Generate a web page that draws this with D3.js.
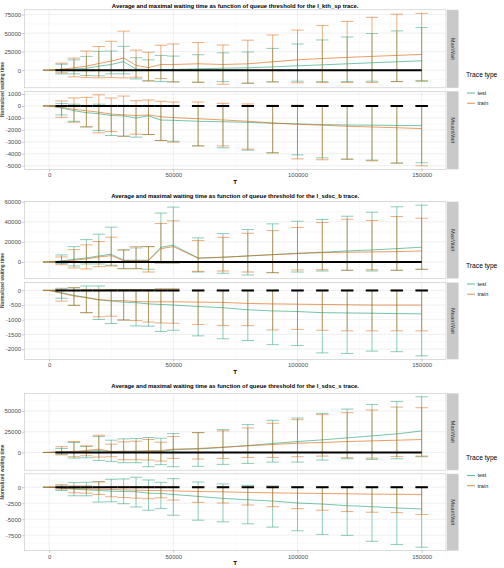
<!DOCTYPE html>
<html>
<head>
<meta charset="utf-8">
<script src="https://cdn.jsdelivr.net/npm/d3@7"></script>
<style>
body { margin: 0; background: #fff; }
svg { display: block; font-family: "Liberation Sans", Arial, sans-serif; }
</style>
</head>
<body>
<div id="chart"></div>
<script>
// queue thresholds (x axis)
var thresholds = [0, 5000, 10000, 15000, 20000, 25000, 30000, 35000, 40000, 45000, 50000,
	60000, 70000, 80000, 90000, 100000, 110000, 120000, 130000, 140000, 150000];

var traceNames = ["l_kth_sp", "l_sdsc_b", "l_sdsc_s"];
var panelNames = ["MaxWait", "MeanWait"];
var seriesNames = ["test", "train"];

// l_kth_sp, MaxWait
var kthMaxTestMean = [0, 500, 1400, 2700, 5400, 7700, 11500, 1500, 700, 800, 1000, 1800, 2700, 3200, 4500, 5900, 7200, 8600, 10000, 11300, 12700];
var kthMaxTestLo = [0, -5000, -5000, -7200, -7700, -5000, -5000, -11800, -14500, -15400, -15800, -16300, -15400, -17600, -15800, -14900, -15400, -15400, -14900, -15400, -14000];
var kthMaxTestHi = [0, 8000, 14000, 18600, 25400, 25800, 32200, 16800, 14000, 19900, 19000, 20800, 23500, 24500, 29400, 35300, 40800, 44800, 49400, 53000, 57500];
var kthMaxTrainMean = [0, 1400, 3200, 5400, 9000, 12200, 16500, 6500, 3400, 7700, 7700, 8600, 7700, 8600, 11300, 14000, 15800, 17200, 18600, 19900, 21300];
var kthMaxTrainLo = [0, -3500, -9000, -10000, -10400, -10000, -10400, -9500, -14500, -11300, -15800, -16300, -19000, -17600, -15800, -17000, -16700, -16700, -16700, -15400, -15400];
var kthMaxTrainHi = [0, 9500, 16300, 25800, 31900, 39000, 52700, 27100, 24200, 33700, 35300, 37300, 34000, 40500, 47500, 54100, 60200, 65800, 71300, 75600, 76700];

// l_kth_sp, MeanWait
var kthMeanTestMean = [0, -170, -400, -560, -650, -800, -830, -1000, -820, -1180, -1200, -1280, -1320, -1370, -1450, -1500, -1560, -1590, -1610, -1630, -1650];
var kthMeanTestLo = [0, -750, -1280, -1750, -2060, -2470, -2530, -2610, -2390, -2890, -2950, -3340, -3500, -3700, -3920, -4090, -4340, -4450, -4530, -4780, -4750];
var kthMeanTestHi = [0, 200, 150, 50, 150, 50, 50, 0, 50, 0, 0, 0, 0, 0, 0, 0, 0, 0, 0, 0, 0];
var kthMeanTrainMean = [0, -110, -280, -400, -520, -680, -740, -800, -750, -900, -970, -1070, -1170, -1280, -1420, -1530, -1610, -1700, -1760, -1820, -1890];
var kthMeanTrainLo = [0, -950, -1360, -1750, -2250, -2140, -2530, -2360, -2390, -2890, -3030, -3340, -3340, -3610, -3920, -4420, -4500, -4450, -4590, -4780, -5000];
var kthMeanTrainHi = [0, 420, 670, 720, 930, 670, 830, 440, 500, 390, 330, 330, 220, 170, 60, 60, 40, 30, 30, 30, 30];

// l_sdsc_b, MaxWait
var sdscbMaxTestMean = [0, 1000, 2700, 4000, 6000, 7700, 1700, 1700, 1700, 14700, 16700, 4000, 4700, 6000, 7300, 8700, 9700, 11000, 12000, 13300, 14700];
var sdscbMaxTestLo = [0, -1500, -4000, -2000, -2000, -3300, -6700, -6700, -7300, -1000, -1000, -10000, -11300, -13000, -10700, -10000, -9000, -8300, -9000, -8300, -7300];
var sdscbMaxTestHi = [0, 7000, 15300, 22300, 27700, 34700, 12000, 14000, 15300, 48700, 54700, 24000, 28300, 32300, 38000, 40600, 42300, 45600, 49600, 55000, 56600];
var sdscbMaxTrainMean = [0, 700, 1700, 3000, 5000, 6300, 1300, 1300, 1300, 13300, 15300, 3700, 4700, 6000, 7300, 8300, 9300, 9700, 10000, 10300, 11000];
var sdscbMaxTrainLo = [0, -2700, -6000, -7000, -4700, -4000, -6700, -6700, -10000, -1000, -1000, -9300, -9000, -10000, -10700, -8000, -7700, -8300, -7700, -8300, -7300];
var sdscbMaxTrainHi = [0, 5000, 12300, 17000, 20300, 24700, 12000, 15300, 15300, 38300, 41000, 21300, 24600, 28600, 31300, 34300, 39300, 42600, 41300, 45300, 43600];

// l_sdsc_b, MeanWait
var sdscbMeanTestMean = [0, -80, -170, -240, -320, -365, -400, -420, -460, -480, -500, -550, -590, -660, -700, -720, -760, -770, -780, -790, -800];
var sdscbMeanTestLo = [0, -270, -510, -760, -990, -1130, -1010, -1210, -1220, -1400, -1360, -1550, -1650, -1710, -1850, -1880, -2130, -2150, -2070, -2090, -2230];
var sdscbMeanTestHi = [0, 70, 90, 150, 150, 30, 30, 30, 30, 30, 30, 0, 0, 0, 0, 0, 0, 0, 0, 0, 0];
var sdscbMeanTrainMean = [0, -100, -190, -250, -320, -340, -350, -380, -390, -390, -390, -400, -410, -445, -460, -470, -480, -490, -500, -500, -500];
var sdscbMeanTrainLo = [0, -365, -510, -760, -900, -880, -1010, -1030, -1080, -1110, -1120, -1160, -1200, -1200, -1350, -1330, -1360, -1380, -1380, -1380, -1380];
var sdscbMeanTrainHi = [0, 30, 90, 30, 30, 30, 30, 30, 30, 60, 60, 0, 0, 0, 0, 0, 0, 0, 0, 0, 0];

// l_sdsc_s, MaxWait
var sdscsMaxTestMean = [0, 400, 400, 1600, 2400, 800, 800, 1200, 1600, 1200, 3200, 4200, 6000, 8400, 10800, 13200, 15200, 17600, 20000, 22400, 26000];
var sdscsMaxTestLo = [0, -2000, -6800, -6400, -9600, -10800, -12400, -12400, -17200, -14800, -17200, -16800, -14400, -13200, -11600, -11600, -9200, -7600, -8400, -7600, -5200];
var sdscsMaxTestHi = [0, 4800, 12000, 7200, 19200, 14800, 16400, 16800, 18000, 17200, 22800, 24000, 27600, 33600, 38800, 41600, 47200, 52400, 58000, 61600, 67200];
var sdscsMaxTrainMean = [0, 800, 1200, 2400, 4000, 1200, 1600, 1600, 2000, 2400, 4000, 4800, 6400, 8000, 9600, 11200, 12000, 13200, 14000, 14800, 15600];
var sdscsMaxTrainLo = [0, -3000, -5200, -4000, -5600, -5200, -8800, -8800, -9200, -10400, -7200, -8000, -7200, -6000, -6000, -5200, -4400, -6400, -6800, -4800, -4400];
var sdscsMaxTrainHi = [0, 7000, 13200, 8000, 20800, 10000, 12800, 13600, 15600, 12400, 19200, 24000, 26000, 29600, 35200, 39600, 45600, 48000, 51200, 54800, 54000];

// l_sdsc_s, MeanWait
var sdscsMeanTestMean = [0, -150, -310, -410, -510, -620, -670, -700, -930, -980, -1130, -1440, -1750, -1960, -2160, -2470, -2630, -2880, -3040, -3240, -3400];
var sdscsMeanTestLo = [0, -510, -1340, -1340, -2320, -2270, -2580, -3090, -3600, -3350, -4380, -5150, -5410, -5720, -6230, -6800, -7370, -7520, -8450, -8960, -9370];
var sdscsMeanTestHi = [0, 200, 720, 770, 880, 1240, 1290, 1550, 1130, 770, 1340, 820, 510, 310, 200, 50, 0, 0, 0, 0, 0];
var sdscsMeanTrainMean = [0, -100, -200, -260, -310, -360, -410, -460, -510, -530, -570, -670, -720, -820, -880, -930, -980, -1030, -1080, -1100, -1130];
var sdscsMeanTrainLo = [0, -310, -880, -930, -1130, -1490, -1600, -1700, -1800, -1650, -2010, -2370, -2470, -2780, -3040, -3350, -3600, -3810, -3910, -3970, -4270];
var sdscsMeanTrainHi = [0, 410, 200, 200, 820, 100, 100, 100, 100, 100, 100, 100, 100, 100, 100, 50, 50, 50, 50, 50, 50];

// y tick labels per panel
var yTicks = [
	[[0, 25000, 50000, 75000], [-5000, -4000, -3000, -2000, -1000, 0, 1000]],
	[[0, 20000, 40000, 60000], [-2000, -1500, -1000, -500, 0]],
	[[0, 25000, 50000], [-7500, -5000, -2500, 0]]
];
var xTicks = [0, 50000, 100000, 150000];

var blackStart = 2500;
var capHalf = 2500;

//group the arrays per trace / panel / series
var allData = [
	[[[kthMaxTestMean, kthMaxTestLo, kthMaxTestHi], [kthMaxTrainMean, kthMaxTrainLo, kthMaxTrainHi]],
	 [[kthMeanTestMean, kthMeanTestLo, kthMeanTestHi], [kthMeanTrainMean, kthMeanTrainLo, kthMeanTrainHi]]],
	[[[sdscbMaxTestMean, sdscbMaxTestLo, sdscbMaxTestHi], [sdscbMaxTrainMean, sdscbMaxTrainLo, sdscbMaxTrainHi]],
	 [[sdscbMeanTestMean, sdscbMeanTestLo, sdscbMeanTestHi], [sdscbMeanTrainMean, sdscbMeanTrainLo, sdscbMeanTrainHi]]],
	[[[sdscsMaxTestMean, sdscsMaxTestLo, sdscsMaxTestHi], [sdscsMaxTrainMean, sdscsMaxTrainLo, sdscsMaxTrainHi]],
	 [[sdscsMeanTestMean, sdscsMeanTestLo, sdscsMeanTestHi], [sdscsMeanTrainMean, sdscsMeanTrainLo, sdscsMeanTrainHi]]]
];

var colors = {test: "#1B9E77", train: "#D95F02"};

// layout
var width = 504, height = 568;
var plotLeft = 24.3, plotRight = 446;
var stripX = 447, stripW = 11.5;
var layout = [
	{title: 5.5, tops: [9.8, 91.3], h: 78},
	{title: 195.5, tops: [201.7, 282.5], h: 76.8},
	{title: 386, tops: [393.3, 473.8], h: 76.9}
];

var svg = d3.select("#chart").append("svg")
	.attr("width", width)
	.attr("height", height);

var xscale = d3.scaleLinear()
	.domain([-10000, 159800])
	.range([plotLeft, plotRight]);

var fmt = function(d){ return String(d); };

traceNames.forEach(function(trace, k){
	var L = layout[k];
	var chart = svg.append("g");

	chart.append("text")
		.attr("x", (plotLeft + plotRight) / 2)
		.attr("y", L.title)
		.attr("dy", "0.35em")
		.attr("text-anchor", "middle")
		.attr("font-size", 5.9)
		.attr("font-weight", "bold")
		.text("Average and maximal waiting time as function of queue threshold for the " + trace + " trace.");

	panelNames.forEach(function(pname, j){
		var top = L.tops[j], bottom = top + L.h;
		var series = allData[k][j];

		//y domain from data, expanded 5% like ggplot
		var lo = d3.min(series, function(s){ return d3.min(s[1]); });
		var hi = d3.max(series, function(s){ return d3.max(s[2]); });
		var pad = (hi - lo) * 0.05;
		var yscale = d3.scaleLinear()
			.domain([lo - pad, hi + pad])
			.range([bottom, top]);

		var clipId = "clip" + k + "_" + j;
		chart.append("clipPath").attr("id", clipId)
			.append("rect")
			.attr("x", plotLeft).attr("y", top)
			.attr("width", plotRight - plotLeft).attr("height", L.h);

		var panel = chart.append("g").attr("clip-path", "url(#" + clipId + ")");

		// grid
		var ticks = yTicks[k][j];
		var step = ticks[1] - ticks[0];
		var minorY = [];
		for (var v = ticks[0] - step / 2; v <= hi + pad; v += step) minorY.push(v);
		panel.selectAll(".minorY").data(minorY).enter().append("line")
			.attr("x1", plotLeft).attr("x2", plotRight)
			.attr("y1", function(d){ return yscale(d); })
			.attr("y2", function(d){ return yscale(d); })
			.attr("stroke", "#F2F2F2").attr("stroke-width", 0.5);
		panel.selectAll(".minorX").data([25000, 75000, 125000]).enter().append("line")
			.attr("y1", top).attr("y2", bottom)
			.attr("x1", function(d){ return xscale(d); })
			.attr("x2", function(d){ return xscale(d); })
			.attr("stroke", "#F2F2F2").attr("stroke-width", 0.5);
		panel.selectAll(".majorY").data(ticks).enter().append("line")
			.attr("x1", plotLeft).attr("x2", plotRight)
			.attr("y1", function(d){ return yscale(d); })
			.attr("y2", function(d){ return yscale(d); })
			.attr("stroke", "#E4E4E4").attr("stroke-width", 0.6);
		panel.selectAll(".majorX").data(xTicks).enter().append("line")
			.attr("y1", top).attr("y2", bottom)
			.attr("x1", function(d){ return xscale(d); })
			.attr("x2", function(d){ return xscale(d); })
			.attr("stroke", "#E4E4E4").attr("stroke-width", 0.6);

		// error bars
		series.forEach(function(s, si){
			var col = colors[seriesNames[si]];
			var g = panel.append("g")
				.attr("stroke", col)
				.attr("stroke-opacity", 0.5)
				.attr("stroke-width", 1)
				.attr("fill", "none");
			var pts = thresholds.map(function(t, i){ return {t: t, lo: s[1][i], hi: s[2][i]}; });
			g.selectAll(".vbar").data(pts).enter().append("line")
				.attr("x1", function(d){ return xscale(d.t); })
				.attr("x2", function(d){ return xscale(d.t); })
				.attr("y1", function(d){ return yscale(d.lo); })
				.attr("y2", function(d){ return yscale(d.hi); });
			["lo", "hi"].forEach(function(key){
				g.selectAll(".cap" + key).data(pts).enter().append("line")
					.attr("x1", function(d){ return xscale(d.t - capHalf); })
					.attr("x2", function(d){ return xscale(d.t + capHalf); })
					.attr("y1", function(d){ return yscale(d[key]); })
					.attr("y2", function(d){ return yscale(d[key]); });
			});
		});

		// mean lines
		series.forEach(function(s, si){
			var line = d3.line()
				.x(function(d, i){ return xscale(thresholds[i]); })
				.y(function(d){ return yscale(d); });
			panel.append("path")
				.attr("d", line(s[0]))
				.attr("fill", "none")
				.attr("stroke", colors[seriesNames[si]])
				.attr("stroke-opacity", 0.6)
				.attr("stroke-width", 1);
		});

		// black zero reference
		if (j === 0) {
			panel.append("line")
				.attr("x1", xscale(blackStart)).attr("x2", xscale(thresholds[thresholds.length - 1]))
				.attr("y1", yscale(0)).attr("y2", yscale(0))
				.attr("stroke", "#000").attr("stroke-width", 2);
		} else {
			panel.selectAll(".zcap").data(thresholds.slice(1)).enter().append("line")
				.attr("x1", function(d){ return xscale(d - capHalf); })
				.attr("x2", function(d){ return xscale(d + capHalf); })
				.attr("y1", yscale(0)).attr("y2", yscale(0))
				.attr("stroke", "#000").attr("stroke-width", 2);
		}

		// border
		chart.append("rect")
			.attr("x", plotLeft).attr("y", top)
			.attr("width", plotRight - plotLeft).attr("height", L.h)
			.attr("fill", "none").attr("stroke", "#C4C4C4").attr("stroke-width", 0.6);

		// strip
		chart.append("rect")
			.attr("x", stripX).attr("y", top)
			.attr("width", stripW).attr("height", L.h)
			.attr("fill", "#C9C9C9");
		chart.append("text")
			.attr("transform", "translate(" + (stripX + stripW / 2) + "," + (top + L.h / 2) + ") rotate(90)")
			.attr("text-anchor", "middle")
			.attr("dy", "0.35em")
			.attr("font-size", 5.8)
			.attr("fill", "#333")
			.text(pname);

		// y axis
		var yAxis = d3.axisLeft(yscale).tickValues(ticks).tickFormat(fmt)
			.tickSize(2.2).tickPadding(1);
		var ya = chart.append("g")
			.attr("transform", "translate(" + plotLeft + ",0)")
			.call(yAxis);
		ya.select(".domain").remove();
		ya.selectAll("line").attr("stroke", "#8A8A8A").attr("stroke-width", 0.5);
		ya.selectAll("text").attr("font-size", 6).attr("fill", "#4D4D4D")
			.attr("font-family", "Liberation Sans, Arial, sans-serif");

		if (j === 1) {
			var xAxis = d3.axisBottom(xscale).tickValues(xTicks).tickFormat(fmt)
				.tickSize(2.2).tickPadding(1.5);
			var xa = chart.append("g")
				.attr("transform", "translate(0," + bottom + ")")
				.call(xAxis);
			xa.select(".domain").remove();
			xa.selectAll("line").attr("stroke", "#8A8A8A").attr("stroke-width", 0.5);
			xa.selectAll("text").attr("font-size", 6).attr("fill", "#4D4D4D")
				.attr("font-family", "Liberation Sans, Arial, sans-serif");

			chart.append("text")
				.attr("x", (plotLeft + plotRight) / 2)
				.attr("y", bottom + 12.5)
				.attr("dy", "0.35em")
				.attr("text-anchor", "middle")
				.attr("font-size", 6.2)
				.attr("font-weight", "bold")
				.text("T");
		}
	});

	var mid = (L.tops[0] + L.tops[1] + L.h) / 2;

	// y axis title, squeezed against the left edge
	chart.append("text")
		.attr("transform", "translate(4.4," + mid + ") rotate(-90)")
		.attr("text-anchor", "middle")
		.attr("font-size", 4.8)
		.attr("font-weight", "bold")
		.attr("fill", "#444")
		.text("Normalized waiting time");

	// legend
	var legend = chart.append("g");
	legend.append("text")
		.attr("x", 466).attr("y", mid - 14.5)
		.attr("dy", "0.35em")
		.attr("font-size", 6.7)
		.text("Trace type");
	seriesNames.forEach(function(name, i){
		var yy = mid + 3.5 + i * 10.2;
		legend.append("line")
			.attr("x1", 467).attr("x2", 475)
			.attr("y1", yy).attr("y2", yy)
			.attr("stroke", colors[name]).attr("stroke-opacity", 0.7)
			.attr("stroke-width", 1);
		legend.append("text")
			.attr("x", 477.5).attr("y", yy)
			.attr("dy", "0.35em")
			.attr("font-size", 5.5)
			.attr("fill", "#222")
			.text(name);
	});
});
</script>
</body>
</html>
